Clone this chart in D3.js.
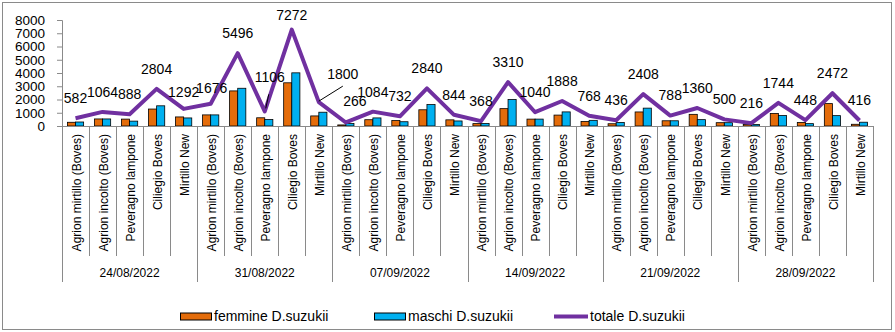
<!DOCTYPE html>
<html>
<head>
<meta charset="utf-8">
<script src="https://cdn.jsdelivr.net/npm/d3@7"></script>
<style>
  html, body { margin: 0; padding: 0; background: #fff; }
  svg { display: block; font-family: "Liberation Sans", Arial, sans-serif; }
</style>
</head>
<body>
<svg id="chart" width="895" height="332"></svg>
<script>
// Trap catches of Drosophila suzukii per site and sampling date
const dates = ["24/08/2022", "31/08/2022", "07/09/2022", "14/09/2022", "21/09/2022", "28/09/2022"];
const sites = ["Agrion mirtillo (Boves)", "Agrion incolto (Boves)", "Peveragno lampone", "Ciliegio Boves", "Mirtillo New"];

const femmine = [280, 532, 520, 1280, 684, 838, 2648, 620, 3260, 760, 80, 474, 410, 1224, 464,
                 180, 1310, 520, 824, 340, 170, 1060, 394, 880, 250, 110, 950, 270, 1690, 130];
const maschi  = [302, 532, 368, 1524, 608, 838, 2848, 486, 4012, 1040, 186, 610, 322, 1616, 380,
                 188, 2000, 520, 1064, 428, 266, 1348, 394, 480, 250, 106, 794, 178, 782, 286];
const totale  = [582, 1064, 888, 2804, 1292, 1676, 5496, 1106, 7272, 1800, 266, 1084, 732, 2840, 844,
                 368, 3310, 1040, 1888, 768, 436, 2408, 788, 1360, 500, 216, 1744, 448, 2472, 416];

const yTicks = [0, 1000, 2000, 3000, 4000, 5000, 6000, 7000, 8000];

const seriesNames = ["femmine D.suzukii", "maschi D.suzukii", "totale D.suzukii"];
const colors = { femmine: "#E46C0A", maschi: "#00B0F0", totale: "#7030A0" };
const axisGray = "#8a8a8a";

// one entry per bar group: date x site
const rows = [];
dates.forEach((d, di) => sites.forEach((s, si) => {
  const i = di * sites.length + si;
  rows.push({ i, date: d, site: s, f: femmine[i], m: maschi[i], t: totale[i] });
}));

const svg = d3.select("#chart");
const plot = { left: 62, right: 873, top: 20, bottom: 126 };

const x = d3.scaleBand().domain(rows.map(r => r.i)).range([plot.left, plot.right]).padding(0);
const y = d3.scaleLinear().domain([0, 8000]).range([plot.bottom, plot.top]);
const bw = x.bandwidth() * 0.3;

// outer frame
svg.append("rect")
  .attr("x", 2.5).attr("y", 2.5).attr("width", 889).attr("height", 327)
  .attr("fill", "none").attr("stroke", axisGray).attr("stroke-width", 1);

// value axis
const yAxis = svg.append("g")
  .attr("transform", `translate(${plot.left},0)`)
  .call(d3.axisLeft(y).tickValues(yTicks).tickSize(5).tickPadding(12).tickFormat(d3.format("d")));
yAxis.select(".domain").attr("stroke", axisGray);
yAxis.selectAll(".tick line").attr("stroke", axisGray);
yAxis.selectAll(".tick text").attr("font-size", 13.5).attr("fill", "#000")
  .attr("font-family", "'Liberation Sans', Arial, sans-serif");

// bars
const bars = svg.append("g");
bars.selectAll("rect.f").data(rows).join("rect")
  .attr("x", d => x(d.i) + x.bandwidth() / 2 - bw)
  .attr("y", d => y(d.f))
  .attr("width", bw)
  .attr("height", d => y(0) - y(d.f))
  .attr("fill", colors.femmine).attr("stroke", "#000").attr("stroke-width", 0.8);
bars.selectAll("rect.m").data(rows).join("rect")
  .attr("x", d => x(d.i) + x.bandwidth() / 2)
  .attr("y", d => y(d.m))
  .attr("width", bw)
  .attr("height", d => y(0) - y(d.m))
  .attr("fill", colors.maschi).attr("stroke", "#000").attr("stroke-width", 0.8);

// category axis: baseline, separators, site and date labels
const cat = svg.append("g");
cat.append("line")
  .attr("x1", plot.left).attr("x2", plot.right)
  .attr("y1", plot.bottom + 0.5).attr("y2", plot.bottom + 0.5)
  .attr("stroke", axisGray);
const bounds = d3.range(rows.length + 1);
cat.selectAll("line.sep").data(bounds).join("line")
  .attr("x1", b => Math.round(plot.left + b * x.step()) + 0.5)
  .attr("x2", b => Math.round(plot.left + b * x.step()) + 0.5)
  .attr("y1", plot.bottom)
  .attr("y2", b => (b % sites.length === 0) ? 282 : 256)
  .attr("stroke", axisGray);
cat.selectAll("text.site").data(rows).join("text")
  .attr("transform", d => `translate(${x(d.i) + x.bandwidth() / 2 + 1},134) rotate(-90)`)
  .attr("text-anchor", "end").attr("dy", "0.35em")
  .attr("font-size", 12).attr("fill", "#000")
  .text(d => d.site);
cat.selectAll("text.date").data(dates).join("text")
  .attr("x", (d, di) => plot.left + (di + 0.5) * sites.length * x.step())
  .attr("y", 273).attr("dy", "0.35em")
  .attr("text-anchor", "middle").attr("font-size", 12).attr("fill", "#000")
  .text(d => d);

// total line
const line = d3.line().x(d => x(d.i) + x.bandwidth() / 2).y(d => y(d.t));
svg.append("path").datum(rows)
  .attr("d", line).attr("fill", "none")
  .attr("stroke", colors.totale).attr("stroke-width", 4).attr("stroke-linejoin", "round");

// data labels of the total, nudged where they would collide
const nudge = { 4: [0, 3], 5: [1, 4], 7: [5, -14], 8: [0, 5], 9: [24, -8], 10: [9, -1] };
const lbl = svg.append("g");
lbl.selectAll("text").data(rows).join("text")
  .attr("x", d => x(d.i) + x.bandwidth() / 2 + (nudge[d.i] ? nudge[d.i][0] : 0))
  .attr("y", d => y(d.t) - 20 + (nudge[d.i] ? nudge[d.i][1] : 0))
  .attr("dy", "0.35em").attr("text-anchor", "middle")
  .attr("font-size", 14).attr("fill", "#000")
  .text(d => d.t);

// leader lines for the displaced labels
[[7, [4, -17], [1, -3]], [9, [24, -16], [0, -1]]].forEach(([i, a, b]) => {
  const cx = x(i) + x.bandwidth() / 2, cy = y(totale[i]);
  lbl.append("line")
    .attr("x1", cx + a[0]).attr("y1", cy + a[1])
    .attr("x2", cx + b[0]).attr("y2", cy + b[1])
    .attr("stroke", "#000").attr("stroke-width", 1);
});

// legend
const legend = svg.append("g").attr("font-size", 14);
const ly = 316.5;
[[180, colors.femmine, seriesNames[0]], [374, colors.maschi, seriesNames[1]]].forEach(([lx, c, name]) => {
  legend.append("rect").attr("x", lx + 0.5).attr("y", ly - 3.5).attr("width", 31).attr("height", 7)
    .attr("fill", c).attr("stroke", "#000").attr("stroke-width", 1);
  legend.append("text").attr("x", lx + 34).attr("y", ly).attr("dy", "0.35em").attr("fill", "#000").text(name);
});
legend.append("line").attr("x1", 554).attr("x2", 588).attr("y1", ly).attr("y2", ly)
  .attr("stroke", colors.totale).attr("stroke-width", 4);
legend.append("text").attr("x", 590).attr("y", ly).attr("dy", "0.35em").attr("fill", "#000").text(seriesNames[2]);
</script>
</body>
</html>
